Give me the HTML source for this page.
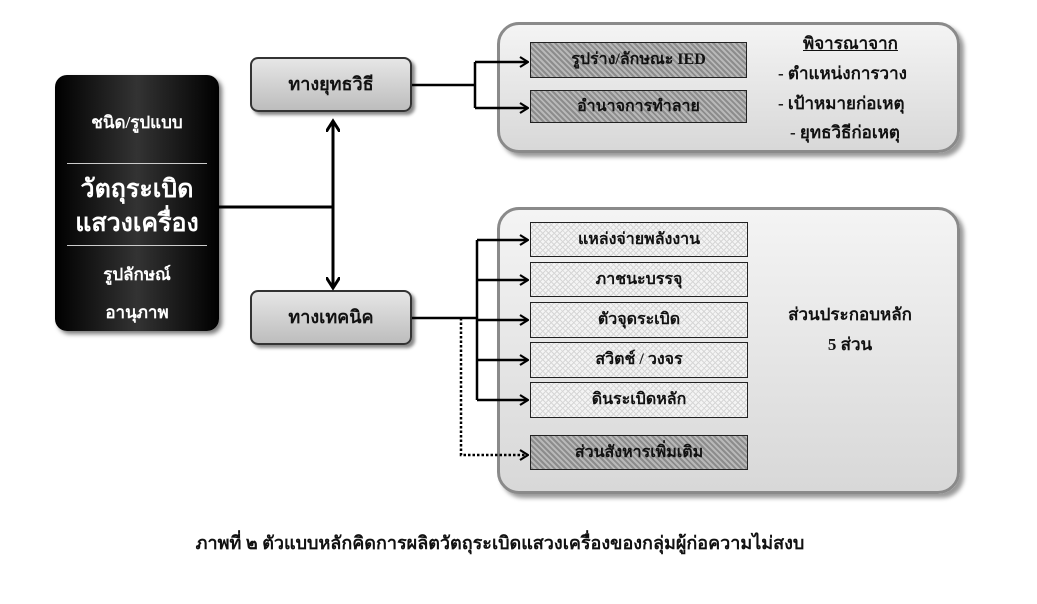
<!DOCTYPE html>
<html><head><meta charset="utf-8"><style>
body{margin:0;width:1037px;height:604px;background:#fff;position:relative;overflow:hidden;font-family:"Liberation Serif","DejaVu Sans",serif;font-weight:bold;color:#111}
.a{position:absolute;box-sizing:border-box}
.panel{background:linear-gradient(#f4f4f4,#d8d8d8);border:3px solid #8a8a8a;border-radius:22px;box-shadow:4px 4px 4px #999}
.btn{background:linear-gradient(#e6e6e6,#bdbdbd);border:2px solid #333;border-radius:8px;box-shadow:3px 3px 3px #888;text-align:center;line-height:50px;font-size:18px}
.ib{border:1.5px solid #222;text-align:center;font-size:16px;background:repeating-linear-gradient(45deg,#d6d6d6 0 1px,transparent 1px 4px),repeating-linear-gradient(-45deg,#d6d6d6 0 1px,#f4f4f4 1px 4px)}
.dk{background:repeating-linear-gradient(45deg,#8c8c8c 0 2px,#b8b8b8 2px 4px)}
.t{position:absolute;white-space:nowrap;font-size:17px}
</style></head><body>
<div class="a" style="left:55px;top:75px;width:164px;height:256px;background:linear-gradient(90deg,#000,#333 50%,#000);border-radius:12px;box-shadow:3px 3px 5px #777;color:#fff;text-align:center">
<div class="a" style="top:34px;width:100%;font-size:17px">ชนิด/รูปแบบ</div>
<div class="a" style="left:12px;top:88px;width:140px;border-top:1px solid #ccc"></div>
<div class="a" style="top:98px;width:100%;font-size:25px;line-height:34px">วัตถุระเบิด<br>แสวงเครื่อง</div>
<div class="a" style="left:12px;top:170px;width:140px;border-top:1px solid #ccc"></div>
<div class="a" style="top:186px;width:100%;font-size:17px">รูปลักษณ์</div>
<div class="a" style="top:224px;width:100%;font-size:17px">อานุภาพ</div>
</div>
<div class="a panel" style="left:497px;top:22px;width:463px;height:131px"></div>
<div class="a panel" style="left:497px;top:207px;width:463px;height:287px"></div>
<div class="a btn" style="left:250px;top:57px;width:162px;height:55px">ทางยุทธวิธี</div>
<div class="a btn" style="left:250px;top:290px;width:162px;height:55px">ทางเทคนิค</div>
<div class="a ib dk" style="left:530px;top:42px;width:217px;height:36px;line-height:34px">รูปร่าง/ลักษณะ IED</div>
<div class="a ib dk" style="left:530px;top:90px;width:217px;height:33px;line-height:31px">อำนาจการทำลาย</div>
<div class="t" style="left:803px;top:30px;text-decoration:underline">พิจารณาจาก</div>
<div class="t" style="left:778px;top:60px">- ตำแหน่งการวาง</div>
<div class="t" style="left:778px;top:90px">- เป้าหมายก่อเหตุ</div>
<div class="t" style="left:790px;top:119px">- ยุทธวิธีก่อเหตุ</div>
<div class="a ib" style="left:530px;top:222px;width:218px;height:35px;line-height:33px">แหล่งจ่ายพลังงาน</div>
<div class="a ib" style="left:530px;top:262px;width:218px;height:35px;line-height:33px">ภาชนะบรรจุ</div>
<div class="a ib" style="left:530px;top:302px;width:218px;height:36px;line-height:34px">ตัวจุดระเบิด</div>
<div class="a ib" style="left:530px;top:342px;width:218px;height:36px;line-height:34px">สวิตช์ / วงจร</div>
<div class="a ib" style="left:530px;top:382px;width:218px;height:36px;line-height:34px">ดินระเบิดหลัก</div>
<div class="a ib dk" style="left:530px;top:435px;width:218px;height:35px;line-height:33px">ส่วนสังหารเพิ่มเติม</div>
<div class="t" style="left:770px;top:300px;width:160px;text-align:center;line-height:30px">ส่วนประกอบหลัก<br>5 ส่วน</div>
<svg class="a" style="left:0;top:0" width="1037" height="604">
<defs><marker id="m" markerWidth="10" markerHeight="12" refX="9" refY="6" orient="auto" markerUnits="userSpaceOnUse"><path d="M1,1L9,6L1,11" fill="none" stroke="#000" stroke-width="2.2"/></marker>
<marker id="b" markerWidth="14" markerHeight="14" refX="10" refY="7" orient="auto" markerUnits="userSpaceOnUse"><path d="M0,0L11,7L0,14" fill="none" stroke="#000" stroke-width="3"/></marker></defs>
<g stroke="#000" stroke-width="2.5" fill="none">
<path d="M219,207H333" stroke-width="3"/>
<path d="M333,207V122" stroke-width="3" marker-end="url(#b)"/>
<path d="M333,207V287" stroke-width="3" marker-end="url(#b)"/>
<path d="M412,85H475M475,62V108"/>
<path d="M475,62H528" marker-end="url(#m)"/><path d="M475,108H528" marker-end="url(#m)"/>
<path d="M412,318H477M477,240V400"/>
<path d="M477,240H528" marker-end="url(#m)"/>
<path d="M477,280H528" marker-end="url(#m)"/>
<path d="M477,320H528" marker-end="url(#m)"/>
<path d="M477,360H528" marker-end="url(#m)"/>
<path d="M477,400H528" marker-end="url(#m)"/>
<path d="M461,318V455H528" stroke-dasharray="2.5,2" marker-end="url(#m)"/>
</g></svg>
<div class="t" style="left:0;width:1000px;top:528px;text-align:center;font-size:18px">ภาพที่ ๒ ตัวแบบหลักคิดการผลิตวัตถุระเบิดแสวงเครื่องของกลุ่มผู้ก่อความไม่สงบ</div>
</body></html>
